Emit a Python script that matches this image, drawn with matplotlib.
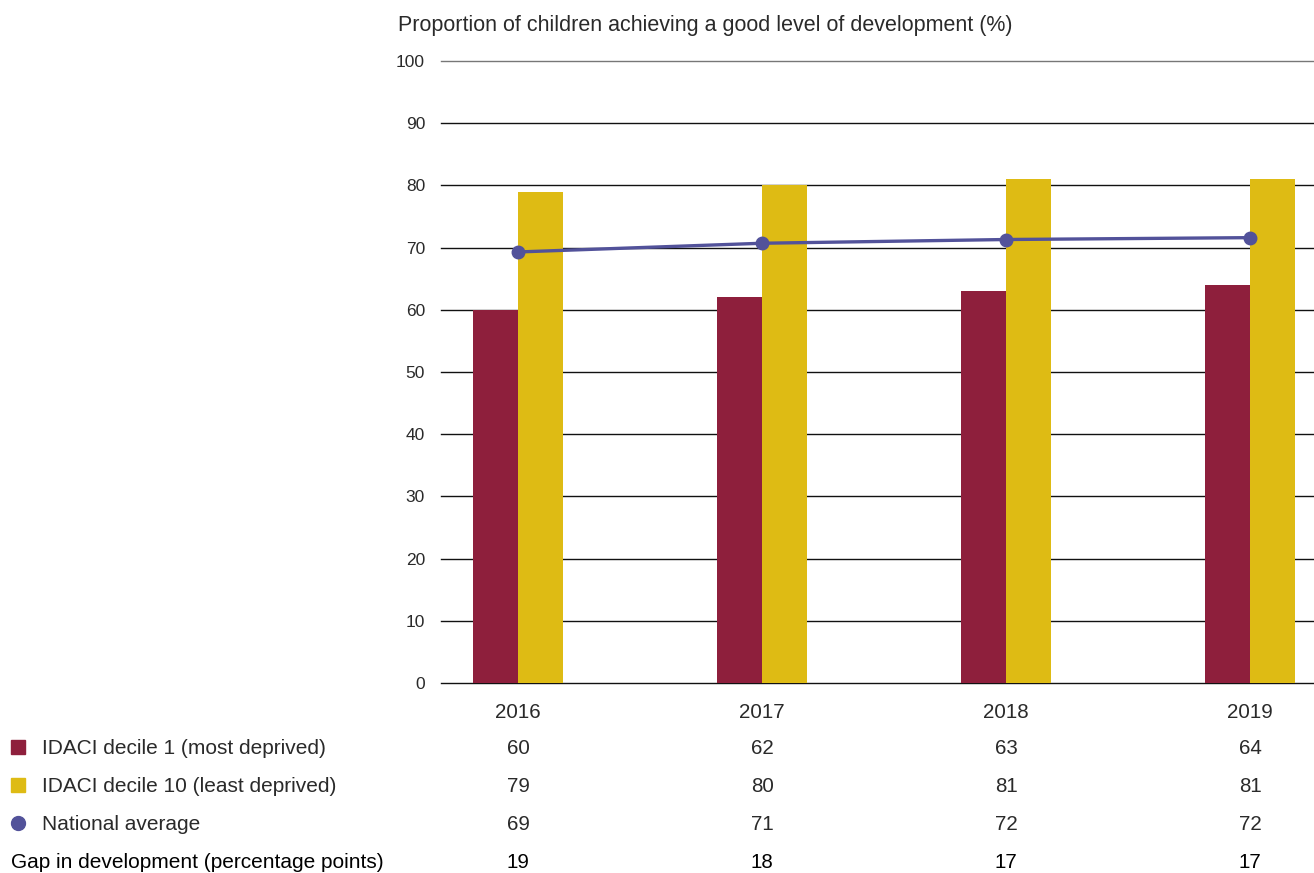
import matplotlib
matplotlib.use("Agg")
import matplotlib.pyplot as plt
import matplotlib.transforms as mtransforms
from matplotlib.lines import Line2D
import numpy as np

years = ["2016", "2017", "2018", "2019"]
decile1 = [60, 62, 63, 64]
decile10 = [79, 80, 81, 81]
national_line = [69.3, 70.7, 71.3, 71.6]
national_table = [69, 71, 72, 72]
gap = [19, 18, 17, 17]
row_labels = ["IDACI decile 1 (most deprived)", "IDACI decile 10 (least deprived)",
              "National average", "Gap in development (percentage points)"]
yticks = list(range(0, 101, 10))
title = "Proportion of children achieving a good level of development (%)"

RED = "#8E1F3C"
YEL = "#DEBB14"
PUR = "#52529A"
TXT = "#2a2a2a"
FS = 14.8

plt.rcParams['font.family'] = ['Liberation Sans', 'DejaVu Sans']

W, H = 1314, 873
fig = plt.figure(figsize=(W / 100, H / 100), dpi=100)

def fx(px):
    return px / W

def fy(py):
    return 1 - py / H

ax_left, ax_right, ax_top, ax_bot = 441, 1314, 61, 683
ax = fig.add_axes([fx(ax_left), fy(ax_bot), fx(ax_right - ax_left), (ax_bot - ax_top) / H])

x = np.arange(len(years))
bw = 0.184
ax.bar(x - bw / 2, decile1, width=bw, color=RED, zorder=2)
ax.bar(x + bw / 2, decile10, width=bw, color=YEL, zorder=2)
ax.plot(x, national_line, color=PUR, lw=2.4, marker='o', ms=9, zorder=3)

ax.set_xlim(-0.316, 3.262)
ax.set_ylim(0, 100)
ax.set_yticks(yticks)
ax.set_yticklabels([str(t) for t in yticks])
ax.set_xticks([])
for s in ax.spines.values():
    s.set_visible(False)
ax.tick_params(axis='y', length=0, pad=11.5, labelsize=12.5, labelcolor=TXT)
for t in yticks:
    ax.axhline(t, color='#111111' if t < 100 else '#777777', lw=1.0, zorder=1, clip_on=False)

fig.text(fx(398), fy(26), title, ha='left', va='center', fontsize=15.5, color=TXT)

blend = mtransforms.blended_transform_factory(ax.transData, fig.transFigure)
row_y = [749, 787, 825, 862]
for i, yr in enumerate(years):
    fig.text(x[i], fy(713), yr, transform=blend, ha='center', va='center', fontsize=FS, color=TXT)
    fig.text(x[i], fy(row_y[0]), str(decile1[i]), transform=blend, ha='center', va='center', fontsize=FS, color=TXT)
    fig.text(x[i], fy(row_y[1]), str(decile10[i]), transform=blend, ha='center', va='center', fontsize=FS, color=TXT)
    fig.text(x[i], fy(row_y[2]), str(national_table[i]), transform=blend, ha='center', va='center', fontsize=FS, color=TXT)
    fig.text(x[i], fy(row_y[3]), str(gap[i]), transform=blend, ha='center', va='center', fontsize=FS, color='#000000')

for i, lab in enumerate(row_labels):
    xs = 42 if i < 3 else 11
    fig.text(fx(xs), fy(row_y[i]), lab, ha='left', va='center', fontsize=15.0,
             color=TXT if i < 3 else '#000000')

mark_y = [747, 785, 823]
fig.add_artist(Line2D([fx(18)], [fy(mark_y[0])], marker='s', ms=10.5, color=RED, transform=fig.transFigure, lw=0))
fig.add_artist(Line2D([fx(18)], [fy(mark_y[1])], marker='s', ms=10.5, color=YEL, transform=fig.transFigure, lw=0))
fig.add_artist(Line2D([fx(18)], [fy(mark_y[2])], marker='o', ms=10, color=PUR, transform=fig.transFigure, lw=0))

fig.savefig("out.png", dpi=100)
